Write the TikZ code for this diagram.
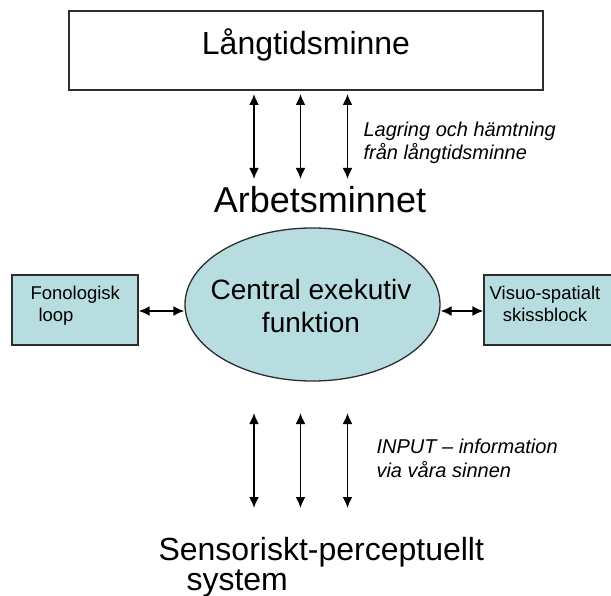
\documentclass[tikz,border=0pt]{standalone}
\usepackage{fontspec}
\setmainfont{Liberation Sans}
\usetikzlibrary{arrows.meta,shapes.geometric}
\definecolor{boxfill}{RGB}{183,221,224}
\definecolor{edgecol}{RGB}{45,45,45}
\tikzset{
  dbl/.style={{Latex[length=11pt,width=10pt]}-{Latex[length=11pt,width=10pt]}, line width=1.8pt},
  bluebox/.style={draw=edgecol, fill=boxfill, line width=1.3pt, inner sep=0pt},
  note/.style={font=\fontsize{20}{23.5}\selectfont\itshape, align=left, anchor=base west}
}
\begin{document}
\begin{tikzpicture}[x=1pt,y=-1pt]
\useasboundingbox (0,0) rectangle (611,596);
% long-term memory
\node[draw=edgecol, line width=1.5pt, minimum width=474pt, text height=44pt, text depth=35pt, inner sep=0pt,
      font=\fontsize{32}{36}\selectfont, anchor=base] (ltm) at (306,55) {Långtidsminne};
% working memory title
\node[font=\fontsize{36}{40}\selectfont, anchor=base] (arb) at (320,213) {Arbetsminnet};
% vertical arrows top
\coordinate (t1a) at (254,94);  \coordinate (t1b) at (254,179);
\coordinate (t2a) at (300.5,94);\coordinate (t2b) at (300.5,179);
\coordinate (t3a) at (347.5,94);\coordinate (t3b) at (347.5,179);
\draw[dbl] (t1a) -- (t1b);
\draw[dbl] (t2a) -- (t2b);
\draw[dbl] (t3a) -- (t3b);
\node[note] (lagr) at (360,160) {Lagring och hämtning\\från långtidsminne};
% central executive
\node[bluebox, ellipse, minimum width=255pt, minimum height=153pt] (ce) at (312.5,304.5) {};
\node[font=\fontsize{28}{33}\selectfont, align=center, anchor=base] (cet) at (311,333) {Central exekutiv\\funktion};
% side boxes
\node[bluebox, minimum width=126pt, minimum height=70pt] (fon) at (75,310) {};
\node[font=\fontsize{18.5}{22}\selectfont, align=left, anchor=base west] (font) at (27,322) {Fonologisk\\\hspace*{8pt}loop};
\node[bluebox, minimum width=131pt, minimum height=70pt] (vis) at (549.5,310) {};
\node[font=\fontsize{18.5}{22}\selectfont, align=center, anchor=base] (vist) at (545,322) {Visuo-spatialt\\skissblock};
\draw[dbl] (fon.east |- 0,311) -- (ce.west |- 0,311);
\draw[dbl] (ce.east |- 0,311) -- (vis.west |- 0,311);
% vertical arrows bottom
\coordinate (b1a) at (254,413);  \coordinate (b1b) at (254,508);
\coordinate (b2a) at (300.5,413);\coordinate (b2b) at (300.5,508);
\coordinate (b3a) at (347.5,413);\coordinate (b3b) at (347.5,508);
\draw[dbl] (b1a) -- (b1b);
\draw[dbl] (b2a) -- (b2b);
\draw[dbl] (b3a) -- (b3b);
\node[note] (inp) at (373,477) {INPUT – information\\via våra sinnen};
% sensory system
\node[font=\fontsize{32}{30}\selectfont, align=left, anchor=base west] (sps) at (155,590) {Sensoriskt-perceptuellt\\\hspace*{28pt}system};
\end{tikzpicture}
\end{document}
